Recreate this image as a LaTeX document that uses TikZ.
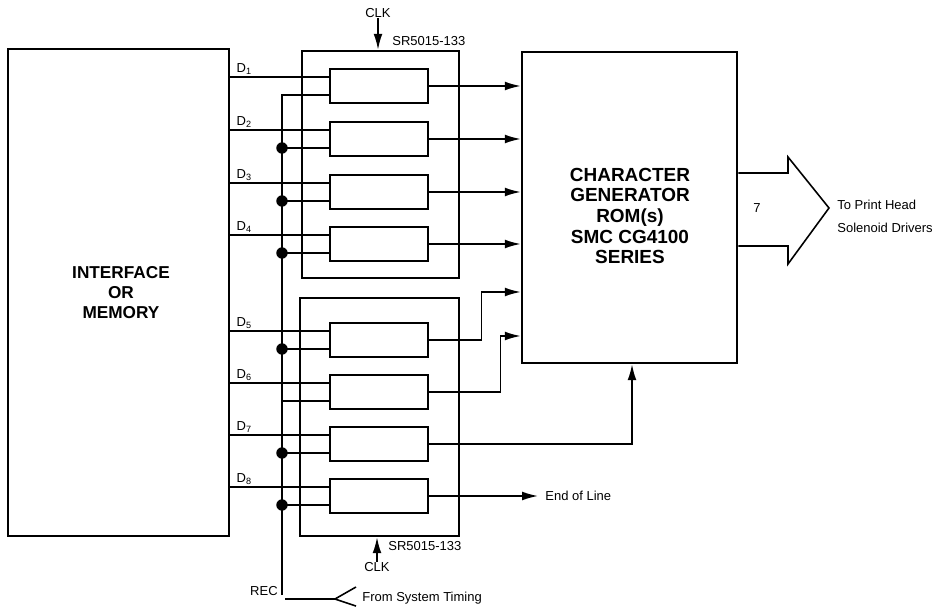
\documentclass[tikz,border=0pt]{standalone}
\usepackage{fontspec}
\setmainfont{Liberation Sans}
\usetikzlibrary{arrows.meta,calc}

\begin{document}
\begin{tikzpicture}[x=0.02cm,y=-0.02cm,
  blk/.style={draw,line width=1.5pt,inner sep=0pt},
  reg/.style={blk,minimum width=1.96cm,minimum height=0.68cm},
  wire/.style={line width=0.9pt},
  sig/.style={wire,-{Latex[length=9pt,width=5pt]}},
  dot/.style={circle,fill,inner sep=0pt,minimum size=6.5pt},
  lbl/.style={font=\fontsize{7.4}{9}\selectfont,inner sep=0pt},
  big/.style={font=\fontsize{10.8}{11.7}\selectfont\bfseries,align=center},
  mid/.style={font=\fontsize{9.8}{11.4}\selectfont\bfseries,align=center}]

\useasboundingbox (0,0) rectangle (936,607);

% Interface / memory
\node[blk,minimum width=4.42cm,minimum height=9.74cm] (iface) at (118.5,292.5) {};
\node[mid] (ifacetext) at (121,293) {INTERFACE\\OR\\MEMORY};

% Shift register packages
\node[blk,minimum width=3.14cm,minimum height=4.54cm] (srtop) at (380.5,164.5) {};
\node[blk,minimum width=3.18cm,minimum height=4.76cm] (srbot) at (379.5,417) {};
\node[lbl,anchor=base west] (srtoplab) at (392,46) {SR5015-133};
\node[lbl,anchor=base west] (srbotlab) at (388,550) {SR5015-133};

% Clock inputs
\node[lbl] (clktop) at (378,13) {CLK};
\node[lbl] (clkbot) at (377,567) {CLK};
\draw[sig] (clktop.south) -- (clktop.south |- srtop.north);
\draw[sig] (clkbot.north) -- (clkbot.north |- srbot.south);

% Registers and data lines
\foreach \i/\ry in {1/86,2/139,3/192,4/244,5/340,6/392,7/444,8/496}{
  \node[reg] (r\i) at (379,\ry) {};
  \coordinate (din\i) at ($(r\i.west)+(0,-9)$);
  \coordinate (rin\i) at ($(r\i.west)+(0,9)$);
  \draw[wire] (iface.east |- din\i) -- (din\i);
  \node[lbl,anchor=south west] (dl\i) at ($(iface.east |- din\i)+(6,-2)$) {D\textsubscript{\i}};
}

% Recirculate line
\coordinate (recbot) at (282,595);
\draw[wire] (recbot) |- (rin1);
\foreach \i in {2,3,4,5,7,8}{
  \node[dot] (j\i) at (recbot |- rin\i) {};
  \draw[wire] (j\i.center) -- (rin\i);
}
\draw[wire] (recbot |- rin6) -- (rin6);
\node[lbl,anchor=east] (rec) at (278,591) {REC};

% From system timing
\coordinate (timing) at (285,599);
\coordinate (fork) at (335,599);
\coordinate (forka) at (356,587);
\coordinate (forkb) at (356,606);
\draw[wire] (timing) -- (fork);
\draw[wire] (forka) -- (fork) -- (forkb);
\node[lbl,anchor=west] (systim) at (362,598) {From System Timing};

% Character generator
\node[blk,minimum width=4.3cm,minimum height=6.22cm] (cg) at (629.5,207.5) {};
\node[big] (cgtext) at (630,216) {CHARACTER\\GENERATOR\\ROM(s)\\SMC CG4100\\SERIES};

% Register outputs
\foreach \i in {1,...,4}
  \draw[sig] (r\i.east) -- (cg.west |- r\i.east);
\coordinate (cgin5) at ($(cg.west)+(0,84.5)$);
\coordinate (cgin6) at ($(cg.west)+(0,128.5)$);
\coordinate (cgin7) at ($(cg.south)+(2.5,0)$);
\draw[sig] (r5.east) -- ++(52,0) |- (cgin5);
\draw[sig] (r6.east) -- ++(71,0) |- (cgin6);
\draw[sig] (r7.east) -| (cgin7);

% End of line
\node[lbl,anchor=west] (eol) at (545,496) {End of Line};
\draw[sig,shorten >=4pt] (r8.east) -- (r8.east -| eol.west);

% Output bus
\draw[wire] ($(cg.east)+(0,-34.5)$) -- (788,173) -- (788,157) -- (829,208)
  -- (788,264) -- (788,246) -- ($(cg.east)+(0,38.5)$);
\node[lbl] (bus) at (757,208) {7};
\node[lbl,anchor=west] (ph1) at (837,205) {To Print Head};
\node[lbl,anchor=west] (ph2) at (837,228) {Solenoid Drivers};

\end{tikzpicture}
\end{document}
